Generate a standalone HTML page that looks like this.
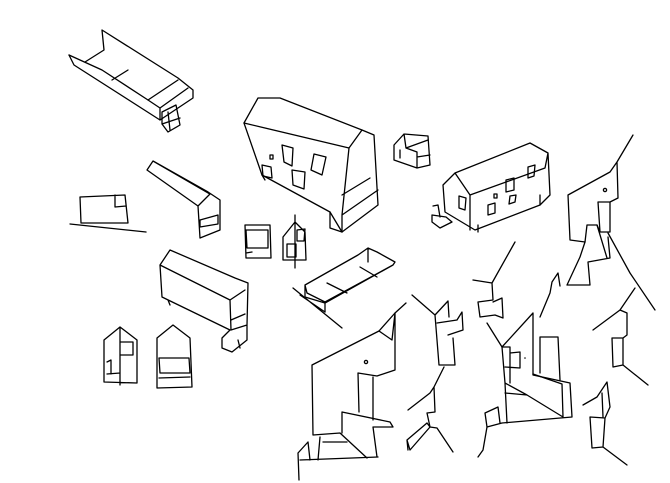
<!DOCTYPE html>
<html><head><meta charset="utf-8"><style>html,body{margin:0;padding:0;background:#fff;width:670px;height:483px;overflow:hidden}svg{display:block}</style></head>
<body>
<svg width="670" height="483" viewBox="0 0 670 483" fill="none" stroke="#000" stroke-width="1.3" stroke-linejoin="round" stroke-linecap="round">
<!-- top-left trough -->
<path d="M69,55 L74,65 L160,120 L193,98 L193,90 L178,78 L102,30 L104,50 L85,62"/>
<path d="M69,55 L102,70 L148,100 L178,80"/>
<path d="M112,80 L128,70 M148,100 L160,108 L160,120 M160,108 L188,88"/>
<path d="M162,112 L176,105 L180,125 L168,132 L162,124 Z M168,112 L170,130 M162,124 L180,118"/>
<!-- big house -->
<path d="M244,123 L258,98 L280,98 L362,130 L374,135 L378,205 L342,232 L330,212 L262,175 L244,123 Z"/>
<path d="M244,123 L349,148 L362,130 M349,148 L342,215 L342,232 M342,215 L378,190 M342,195 L370,178"/>
<path d="M262,175 L265,180 M330,212 L330,228 L342,232"/>
<path d="M282,145 L293,148 L292,166 L284,162 Z M314,154 L326,157 L322,175 L311,170 Z M292,170 L305,172 L304,189 L293,185 Z M262,165 L271,167 L272,178 L263,176 Z M270,155 L273,155 L273,159 L270,159 Z"/>
<!-- small cube -->
<path d="M394,145 L404,134 L428,136 L430,165 L417,168 L394,160 Z M404,134 L406,148 L417,152 L417,168 M406,148 L428,140 M400,150 L400,158 M417,157 L430,155"/>
<!-- right house -->
<path d="M443,185 L455,173 L530,143 L548,153 L550,195 L540,205 L475,230 L445,212 Z M455,173 L470,195 L470,230 M470,195 L545,168 L548,153"/>
<path d="M459,196 L466,198 L465,210 L459,208 Z M506,180 L514,178 L514,190 L506,192 Z M528,167 L535,165 L534,176 L528,178 Z M488,205 L495,203 L495,213 L488,215 Z M510,196 L516,195 L515,202 L509,204 Z M494,194 L497,194 L497,198 L494,198 Z"/>
<path d="M433,206 L438,205 L440,217 M432,215 L446,217 L452,222 L440,228 L432,222 Z M540,195 L540,205 M478,225 L478,232"/>
<!-- left window frame -->
<path d="M80,197 L125,195 L128,223 L81,223 Z M115,195 L115,207 L126,206 M70,224 L146,232"/>
<!-- angled bar house -->
<path d="M147,170 L153,161 L208,192 L220,200 L220,230 L200,238 L198,206 L147,170 Z M153,161 L210,194 L198,206 M200,220 L218,215 L218,224 L200,227 Z"/>
<!-- small front house pair -->
<path d="M245,225 L270,225 L271,258 L246,258 Z M246,230 L268,230 L268,248 L247,248 Z M246,253 L252,252"/>
<path d="M283,237 L295,222 L305,232 L306,260 L283,260 Z M295,215 L295,268 M287,244 L296,244 L296,257 L287,257 Z M297,230 L305,229 L304,241 L297,241 Z"/>
<!-- trough 2 -->
<path d="M305,285 L358,255 L368,248 L377,252 L395,262 L393,265 L325,303 L305,297 Z M307,293 L325,302 L325,312 M305,285 L307,293 M327,283 L347,293 M360,267 L377,277 M368,248 L368,262 M325,302 L393,265"/>
<path d="M293,288 L342,328 M300,295 L325,312"/>
<!-- long house middle-left -->
<path d="M160,265 L170,250 L235,278 L248,283 L247,325 L231,330 L230,300 L160,265 Z M160,265 L162,297 L230,330 M230,300 L245,290 M231,320 L245,314 M230,330 L222,338 L222,348 L232,352 L247,340 L247,325 M168,300 L170,305 M238,340 L240,348"/>
<!-- two small houses -->
<path d="M104,340 L120,327 L137,340 L137,383 L104,382 Z M120,327 L120,385 M120,342 L133,342 L133,355 L120,355 Z M107,362 L111,360 L111,374 M107,374 L120,373"/>
<path d="M157,338 L173,325 L190,338 L192,387 L157,388 Z M159,358 L189,358 L190,373 L160,373 Z M159,378 L190,377"/>
<!-- big building bottom-centre -->
<path d="M406,303 L395,313 L379,331 L312,365 L313,435 L340,433 L367,458"/>
<path d="M379,331 L392,340 L395,313 L395,370 L377,376 L358,373 L359,412 M373,377 L373,420"/>
<path d="M342,412 L390,422 L393,427 L373,427 L377,457 M342,412 L342,433 M323,442 L347,442 M300,460 L378,457 M298,453 L308,442 L310,460 M298,453 L299,480 M320,437 L318,460"/>
<circle cx="366" cy="362" r="1.6"/>
<!-- middle column -->
<path d="M412,295 L435,315 L448,301 L449,317 M437,323 L457,320 L462,312 L463,330 L448,335 M435,315 L439,365 L455,365 L453,338"/>
<path d="M444,367 L434,387 L430,393 L408,410 M434,387 L435,412 L427,413 L430,427 L437,428 L453,452 M407,440 L427,423 L430,427 L410,450 Z M407,440 L408,450"/>
<!-- middle-right upper -->
<path d="M515,242 L492,283 L473,280 M492,283 L493,300 L478,302 L480,317 L495,315 L503,318 L502,298 L493,302"/>
<!-- middle-right building -->
<path d="M487,323 L502,347 L533,313 L533,375 L570,383 L572,417 L502,423 L487,427 L485,413 L498,407 L500,423"/>
<path d="M502,347 L505,383 L507,423 M502,347 L510,347 L510,383 M510,353 L520,352 L520,368 L505,367 M505,383 L527,395 L563,417 M505,393 L527,395 M540,337 L558,337 L560,380 M540,337 L540,373 M533,374 L562,384 L563,417 M487,427 L483,450 L478,457"/>
<circle cx="525" cy="358" r="0.8" fill="#000" stroke="none"/>
<!-- right top building -->
<path d="M633,135 L617,162 L610,172 L568,195 L570,240 L585,242 L587,225 L597,225 L600,232 L610,232 L610,202 L618,198 L617,162 M598,202 L610,202 M598,202 L600,232"/>
<path d="M585,242 L580,257 L567,285 L590,285 L588,262 L610,258 L608,237 M597,225 L607,258 M558,273 L552,282 L550,293 L540,317 M558,273 L560,286 M608,233 L630,273 L655,310"/>
<circle cx="605" cy="190" r="1.6"/>
<!-- right lower -->
<path d="M635,288 L620,310 L593,330 M620,310 L627,313 L627,335 L623,338 L612,338 L613,367 L623,365 L648,385 M623,338 L623,365"/>
<path d="M607,382 L597,397 L583,405 M607,382 L610,407 L605,418 L603,447 L627,465 M590,417 L592,448 L603,447 M590,417 L605,418 M602,393 L603,417"/>
</svg>
</body></html>
